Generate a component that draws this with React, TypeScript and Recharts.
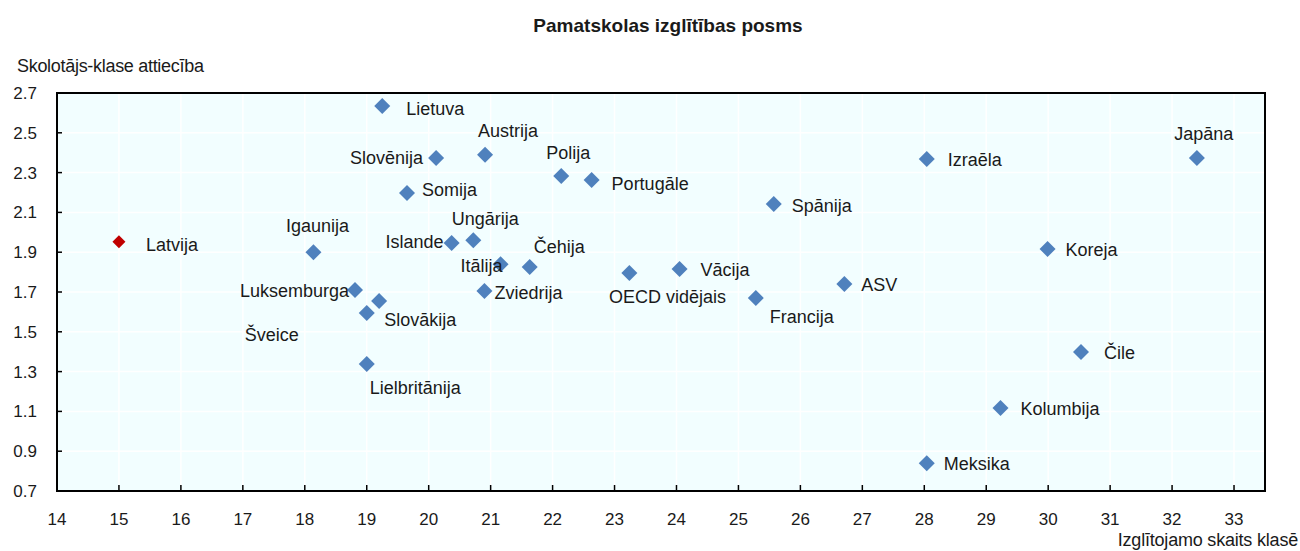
import React from "react";
import {
  CartesianGrid,
  ReferenceArea,
  Scatter,
  ScatterChart,
  XAxis,
  YAxis,
} from "recharts";

const countries = [
  "Lietuva", "Slovēnija", "Austrija", "Somija", "Polija", "Portugāle", "Spānija",
  "Izraēla", "Japāna", "Igaunija", "Islande", "Ungārija", "Itālija", "Čehija",
  "OECD vidējais", "Vācija", "Koreja", "ASV", "Francija", "Luksemburga",
  "Slovākija", "Šveice", "Zviedrija", "Lielbritānija", "Čile", "Kolumbija", "Meksika",
];
const classSize = [
  19.25, 20.12, 20.91, 19.65, 22.14, 22.63, 25.57,
  28.04, 32.4, 18.14, 20.37, 20.72, 21.16, 21.63,
  23.24, 24.05, 29.99, 26.71, 25.28, 18.81,
  19.2, 19.0, 20.9, 19.0, 30.53, 29.23, 28.04,
];
const ratio = [
  2.635, 2.373, 2.39, 2.197, 2.283, 2.263, 2.142,
  2.368, 2.373, 1.9, 1.946, 1.96, 1.84, 1.826,
  1.795, 1.815, 1.916, 1.74, 1.67, 1.71,
  1.655, 1.594, 1.705, 1.338, 1.398, 1.117, 0.84,
];

const latviaName = "Latvija";
const latviaClassSize = 15.0;
const latviaRatio = 1.953;

const xTicks = [14, 15, 16, 17, 18, 19, 20, 21, 22, 23, 24, 25, 26, 27, 28, 29, 30, 31, 32, 33];
const yTicks = [0.7, 0.9, 1.1, 1.3, 1.5, 1.7, 1.9, 2.1, 2.3, 2.5, 2.7];

// label offsets from the marker: dx, dy, anchor
const labelPlace: Record<string, [number, number, "start" | "middle" | "end"]> = {
  Latvija: [27, 3, "start"],
  Lietuva: [24, 3, "start"],
  "Slovēnija": [-13, 0, "end"],
  Austrija: [23, -24, "middle"],
  Somija: [15, -3, "start"],
  Polija: [7, -23, "middle"],
  "Portugāle": [20, 4, "start"],
  "Spānija": [18, 2, "start"],
  "Izraēla": [21, 1, "start"],
  "Japāna": [7, -24, "middle"],
  Igaunija: [4, -26, "middle"],
  Islande: [-8, -1, "end"],
  "Ungārija": [12, -21, "middle"],
  "Itālija": [2, 2, "end"],
  "Čehija": [4, -20, "start"],
  "OECD vidējais": [38, 24, "middle"],
  "Vācija": [21, 1, "start"],
  Koreja: [18, 1, "start"],
  ASV: [17, 1, "start"],
  Francija: [14, 19, "start"],
  Luksemburga: [-6, 1, "end"],
  "Slovākija": [5, 19, "start"],
  "Šveice": [-95, 22, "middle"],
  Zviedrija: [10, 2, "start"],
  "Lielbritānija": [3, 24, "start"],
  "Čile": [23, 1, "start"],
  Kolumbija: [20, 1, "start"],
  Meksika: [17, 1, "start"],
};

const font = "'Liberation Sans', Arial, sans-serif";
const blue = "#4F81BD";
const red = "#C00000";

const others = countries.map((name, i) => ({ name, x: classSize[i], y: ratio[i] }));
const latvia = [{ name: latviaName, x: latviaClassSize, y: latviaRatio }];

const makeShape = (color: string, r: number) => (props: any) => {
  const { cx, cy, payload } = props;
  const place = labelPlace[payload.name] ?? [12, 0, "start"];
  return (
    <g>
      <polygon
        points={`${cx},${cy - r} ${cx + r},${cy} ${cx},${cy + r} ${cx - r},${cy}`}
        fill={color}
      />
      <text
        x={cx + place[0]}
        y={cy + place[1]}
        textAnchor={place[2]}
        dominantBaseline="central"
        fontFamily={font}
        fontSize={18}
        fill="#1a1a1a"
      >
        {payload.name}
      </text>
    </g>
  );
};

const YTick = (props: any) => {
  const { x, y, payload } = props;
  return (
    <g>
      <line x1={x} x2={x + 5} y1={y} y2={y} stroke="#000" strokeWidth={1.5} />
      <text x={x - 20} y={y} dy={6} textAnchor="end" fontFamily={font} fontSize={17} fill="#1a1a1a">
        {payload.value.toFixed(1)}
      </text>
    </g>
  );
};

const XTick = (props: any) => {
  const { x, y, payload } = props;
  return (
    <g>
      <line x1={x} x2={x} y1={y} y2={y - 6} stroke="#000" strokeWidth={1.5} />
      <text x={x} y={y + 34} textAnchor="middle" fontFamily={font} fontSize={17} fill="#1a1a1a">
        {payload.value}
      </text>
    </g>
  );
};

export default function App() {
  return (
    <div style={{ position: "absolute", left: 0, top: 0, width: 1300, height: 551, background: "#fff" }}>
      <div
        style={{
          position: "absolute",
          left: 0,
          width: 1336,
          top: 15,
          textAlign: "center",
          fontFamily: font,
          fontWeight: "bold",
          fontSize: 19,
          color: "#1a1a1a",
        }}
      >
        Pamatskolas izglītības posms
      </div>
      <div
        style={{
          position: "absolute",
          left: 17,
          top: 56,
          fontFamily: font,
          fontSize: 18,
          color: "#1a1a1a",
          letterSpacing: -0.3,
        }}
      >
        Skolotājs-klase attiecība
      </div>
      <div
        style={{
          position: "absolute",
          right: 2,
          top: 530,
          fontFamily: font,
          fontSize: 18,
          color: "#1a1a1a",
          letterSpacing: -0.2,
        }}
      >
        Izglītojamo skaits klasē
      </div>
      <ScatterChart width={1300} height={551} margin={{ top: 93, right: 35, bottom: 0, left: 0 }}>
        <CartesianGrid fill="#F2FEFF" stroke="#ffffff" strokeWidth={1.5} />
        <XAxis
          type="number"
          dataKey="x"
          domain={[14, 33.5]}
          ticks={xTicks}
          allowDataOverflow
          height={60}
          tickSize={0}
          tickMargin={0}
          tickLine={false}
          axisLine={{ stroke: "#000", strokeWidth: 2 }}
          tick={<XTick />}
          interval={0}
        />
        <YAxis
          type="number"
          dataKey="y"
          domain={[0.7, 2.7]}
          ticks={yTicks}
          allowDataOverflow
          width={57}
          tickSize={0}
          tickMargin={0}
          tickLine={false}
          axisLine={{ stroke: "#000", strokeWidth: 2 }}
          tick={<YTick />}
          interval={0}
        />
        <ReferenceArea x1={14} x2={33.5} y1={0.7} y2={2.7} fill="none" stroke="#000" strokeWidth={2} />
        <Scatter data={others} shape={makeShape(blue, 8)} isAnimationActive={false} />
        <Scatter data={latvia} shape={makeShape(red, 6.5)} isAnimationActive={false} />
      </ScatterChart>
    </div>
  );
}
